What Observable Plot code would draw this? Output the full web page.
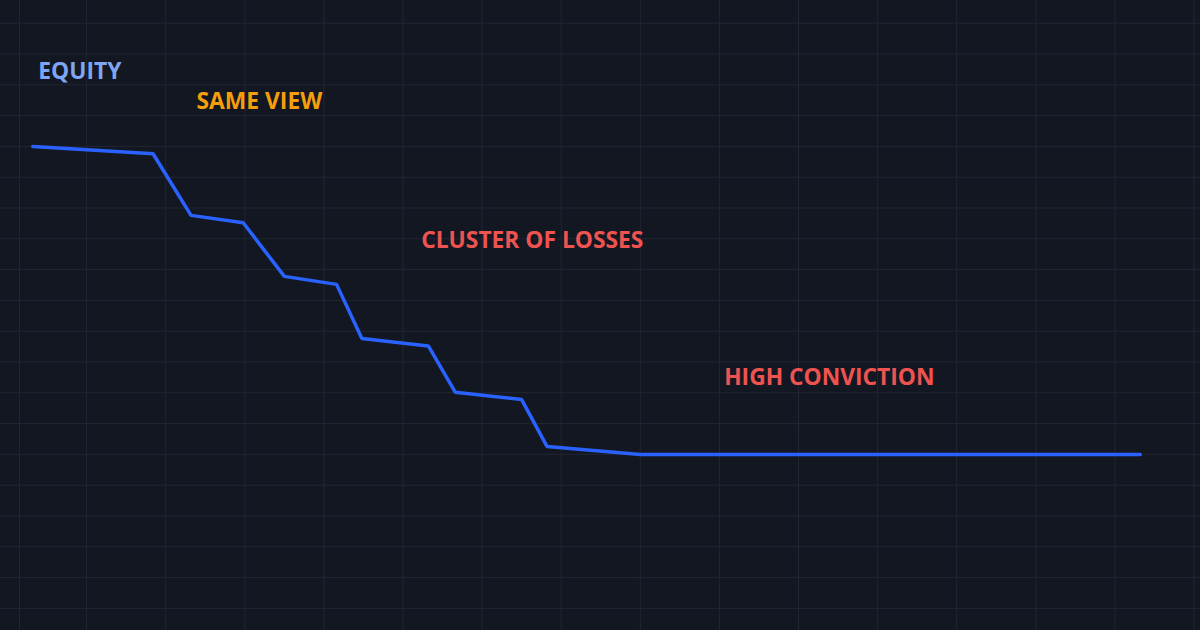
<!DOCTYPE html>
<html>
<head>
<meta charset="utf-8">
<script src="https://cdn.jsdelivr.net/npm/d3@7"></script>
<script src="https://cdn.jsdelivr.net/npm/@observablehq/plot@0.6"></script>
<style>
  html, body { margin: 0; padding: 0; background: #131722; }
  #chart { width: 1200px; height: 630px; overflow: hidden; }
</style>
</head>
<body>
<div id="chart"></div>
<script>
// Equity curve (x = trade/time units, y = account equity)
const tradeX = [1.6, 9.2, 11.6, 14.9, 17.5, 20.8, 22.4, 26.6, 28.3, 32.5, 34.1, 40.0, 71.6];
const equity = [10000, 9880, 8880, 8760, 7890, 7760, 6880, 6760, 6010, 5890, 5130, 5000, 5000];

// Annotations
const labelText  = ["EQUITY", "SAME VIEW", "CLUSTER OF LOSSES", "HIGH CONVICTION"];
const labelX     = [1.95, 11.95, 26.15, 45.3];
const labelY     = [11100, 10600, 8350, 6120];
const labelColor = ["#7ea6f2", "#f59e0b", "#ef5350", "#ef5350"];

// Grid lines
const gridX = [0.76, ...d3.range(5, 80, 5)];
const gridY = d3.range(12000, 2000, -500);

const points = tradeX.map((x, i) => ({x, y: equity[i]}));
const labels = labelText.map((t, i) => ({t, x: labelX[i], y: labelY[i], c: labelColor[i]}));

const chart = Plot.plot({
  width: 1200,
  height: 630,
  margin: 0,
  style: {background: "#131722", overflow: "hidden"},
  x: {domain: [-0.4425, 75.41], axis: null},
  y: {domain: [2141, 12368.5], axis: null},
  marks: [
    Plot.ruleX(gridX, {stroke: "#212634", strokeWidth: 1}),
    Plot.ruleY(gridY, {stroke: "#212634", strokeWidth: 1}),
    Plot.line(points, {x: "x", y: "y", stroke: "#2962ff", strokeWidth: 3.5, strokeLinejoin: "miter", curve: "linear"}),
    Plot.text(labels, {
      x: "x", y: "y", text: "t", fill: "c",
      textAnchor: "start", lineAnchor: "bottom",
      fontSize: 22.8, fontWeight: "bold",
      fontFamily: "'Open Sans', Lato, sans-serif"
    })
  ]
});
document.getElementById("chart").appendChild(chart);
</script>
</body>
</html>
